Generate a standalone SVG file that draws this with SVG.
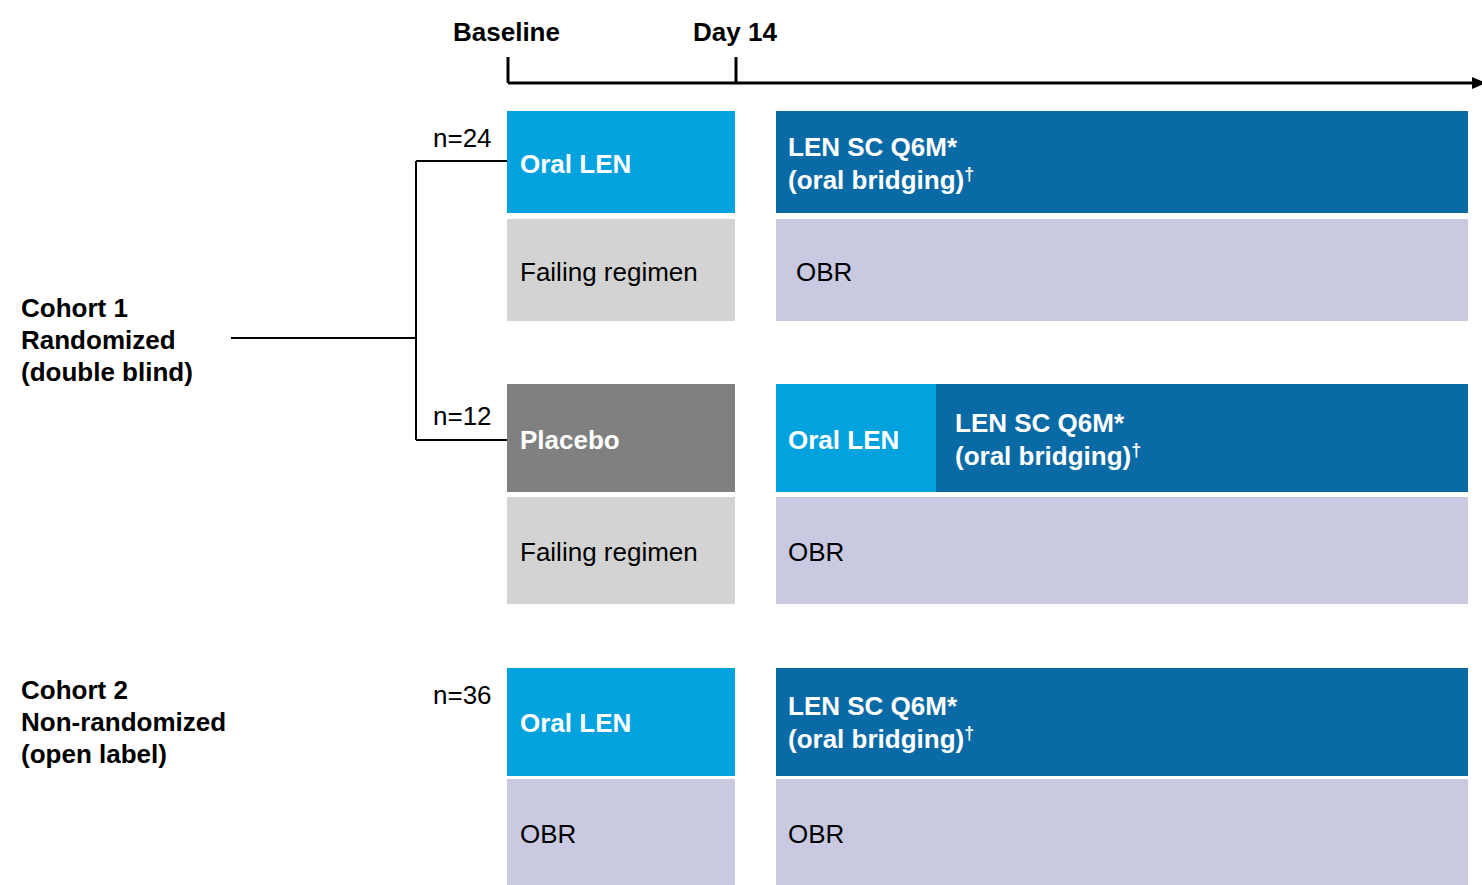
<svg xmlns="http://www.w3.org/2000/svg" width="1482" height="885" viewBox="0 0 1482 885">
<style>
text{font-family:"Liberation Sans",Arial,sans-serif;font-size:26px}
.b{font-weight:bold}
.w{fill:#fff;font-weight:bold}
.k{fill:#000}
.lb{fill:#02A2DF}
.db{fill:#0A6AA6}
.lg{fill:#D3D3D3}
.dg{fill:#808080}
.lv{fill:#C9C9E1}
.ln{fill:none;stroke:#000;stroke-width:2}
.ax{fill:none;stroke:#000;stroke-width:3}
.sup{font-size:18px;font-weight:bold}
</style>
<defs>
<marker id="ah" markerWidth="14" markerHeight="12" refX="0" refY="6" orient="auto" markerUnits="userSpaceOnUse" viewBox="0 0 14 12">
<path d="M0,0 L14,6 L0,12 Z" fill="#000"/>
</marker>
</defs>
<g id="timeline">
<text class="b" x="453" y="41">Baseline</text>
<text class="b" x="693" y="41">Day 14</text>
<path class="ax" d="M508,57 V83 M736,57 V83"/>
<path class="ax" d="M508,83 H1472" marker-end="url(#ah)"/>
</g>
<g id="cohort1-label">
<text class="b" x="21" y="317">Cohort 1</text>
<text class="b" x="21" y="349">Randomized</text>
<text class="b" x="21" y="381">(double blind)</text>
</g>
<g id="cohort2-label">
<text class="b" x="21" y="699">Cohort 2</text>
<text class="b" x="21" y="731">Non-randomized</text>
<text class="b" x="21" y="763">(open label)</text>
</g>
<g id="connectors">
<path class="ln" d="M231,338 H416 M416,161 V440 M416,161 H507 M416,440 H507"/>
</g>
<g id="n-labels">
<text x="433" y="147">n=24</text>
<text x="433" y="425">n=12</text>
<text x="433" y="704">n=36</text>
</g>
<g id="r1-oral">
<rect class="lb" x="507" y="111" width="228" height="102"/>
<text class="w" x="520" y="173">Oral LEN</text>
</g>
<g id="r1-lensc">
<rect class="db" x="776" y="111" width="692" height="102"/>
<text class="w" x="788" y="156">LEN SC Q6M*</text>
<text class="w" x="788" y="189">(oral bridging)<tspan class="sup" dy="-9">†</tspan></text>
</g>
<g id="r2-failing">
<rect class="lg" x="507" y="219" width="228" height="102"/>
<text class="k" x="520" y="281">Failing regimen</text>
</g>
<g id="r2-obr">
<rect class="lv" x="776" y="219" width="692" height="102"/>
<text class="k" x="796" y="281">OBR</text>
</g>
<g id="r3-placebo">
<rect class="dg" x="507" y="384" width="228" height="108"/>
<text class="w" x="520" y="449">Placebo</text>
</g>
<g id="r3-oral">
<rect class="lb" x="776" y="384" width="160" height="108"/>
<text class="w" x="788" y="449">Oral LEN</text>
</g>
<g id="r3-lensc">
<rect class="db" x="936" y="384" width="532" height="108"/>
<text class="w" x="955" y="432">LEN SC Q6M*</text>
<text class="w" x="955" y="465">(oral bridging)<tspan class="sup" dy="-9">†</tspan></text>
</g>
<g id="r4-failing">
<rect class="lg" x="507" y="497" width="228" height="107"/>
<text class="k" x="520" y="561">Failing regimen</text>
</g>
<g id="r4-obr">
<rect class="lv" x="776" y="497" width="692" height="107"/>
<text class="k" x="788" y="561">OBR</text>
</g>
<g id="r5-oral">
<rect class="lb" x="507" y="668" width="228" height="108"/>
<text class="w" x="520" y="732">Oral LEN</text>
</g>
<g id="r5-lensc">
<rect class="db" x="776" y="668" width="692" height="108"/>
<text class="w" x="788" y="715">LEN SC Q6M*</text>
<text class="w" x="788" y="748">(oral bridging)<tspan class="sup" dy="-9">†</tspan></text>
</g>
<g id="r6-obr-left">
<rect class="lv" x="507" y="779" width="228" height="106"/>
<text class="k" x="520" y="843">OBR</text>
</g>
<g id="r6-obr-right">
<rect class="lv" x="776" y="779" width="692" height="106"/>
<text class="k" x="788" y="843">OBR</text>
</g>
</svg>
